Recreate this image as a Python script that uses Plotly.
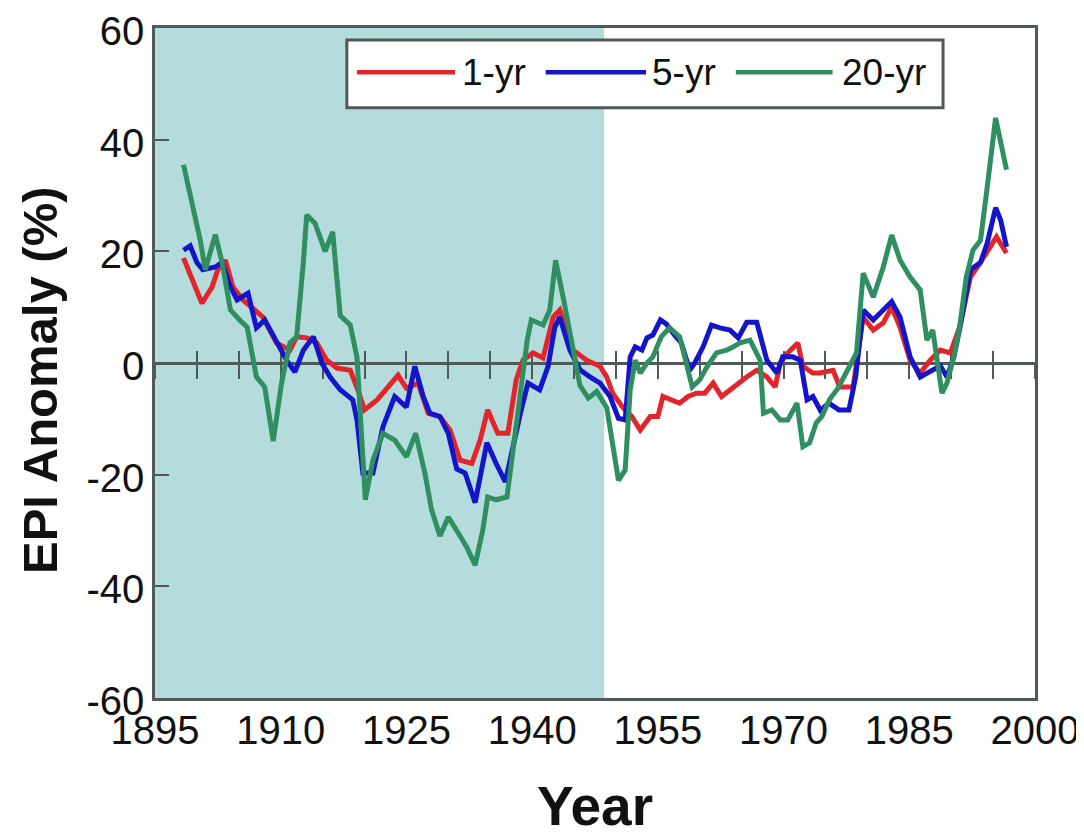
import plotly.graph_objects as go

# ---- data ----
yr1_years = [1898.4, 1899.6, 1900.6, 1901.8, 1902.5, 1903.4, 1904.3, 1905.5, 1907.9, 1909.5,
             1911.1, 1911.9, 1913.1, 1914.3, 1915.5, 1916.7, 1918.3, 1919.2, 1920.0, 1921.5,
             1922.8, 1924.0, 1925.0, 1926.4, 1927.6, 1929.0, 1930.2, 1931.4, 1932.8, 1933.8,
             1934.7, 1935.9, 1937.1, 1938.1, 1938.9, 1940.1, 1941.3, 1942.5, 1943.3, 1944.9,
             1946.5, 1948.1, 1948.9, 1949.6, 1950.8, 1951.9, 1952.9, 1954.1, 1955.0, 1955.6,
             1956.6, 1957.6, 1958.6, 1959.6, 1960.6, 1961.6, 1962.6, 1963.6, 1964.6, 1965.6,
             1966.8, 1968.0, 1969.0, 1969.6, 1970.5, 1971.7, 1972.3, 1973.5, 1974.3, 1975.1,
             1975.9, 1976.7, 1978.3, 1979.5, 1980.7, 1981.9, 1982.9, 1983.9, 1985.1, 1986.3,
             1987.5, 1988.7, 1989.9, 1991.0, 1992.3, 1993.5, 1994.7, 1995.4, 1996.6]
yr1_values = [18.8, 14.3, 10.7, 13.6, 16.7, 18.4, 13.6, 11.3, 8.2, 3.6,
              2.3, 4.7, 4.5, 3.6, 0.5, -0.9, -1.3, -4.8, -8.4, -6.6,
              -4.3, -2.2, -4.5, -3.6, -9.0, -9.6, -12.0, -17.4, -18.0, -13.8,
              -8.4, -12.6, -12.6, -3.0, 0.5, 1.8, 0.9, 8.2, 9.5, 2.3,
              0.5, -0.6, -2.5, -5.4, -7.9, -9.6, -12.0, -9.6, -9.6, -6.0,
              -6.6, -7.2, -6.0, -5.4, -5.4, -3.6, -6.0, -4.8, -3.6, -2.5,
              -1.3, -2.5, -4.3, 0.0, 1.8, 3.6, -0.6, -1.8, -1.8, -1.6,
              -1.3, -4.3, -4.3, 8.2, 5.9, 7.2, 10.0, 6.4, 0.5, -1.8,
              0.5, 2.3, 1.8, 6.4, 15.4, 18.0, 20.8, 22.6, 19.7]

yr5_years = [1898.4, 1899.2, 1900.0, 1900.7, 1902.2, 1903.0, 1904.0, 1904.8, 1906.1, 1907.1,
             1908.1, 1909.9, 1910.7, 1911.7, 1912.7, 1913.9, 1914.9, 1915.9, 1917.1, 1918.6,
             1919.1, 1919.8, 1921.0, 1922.2, 1923.6, 1925.0, 1926.0, 1927.0, 1927.8, 1929.0,
             1930.0, 1931.0, 1932.0, 1933.2, 1934.6, 1935.7, 1936.8, 1938.6, 1939.5, 1940.9,
             1941.9, 1942.7, 1943.3, 1944.5, 1945.7, 1946.9, 1948.1, 1949.3, 1950.3, 1951.1,
             1951.7, 1952.3, 1953.1, 1953.7, 1954.4, 1955.3, 1956.0, 1957.0, 1957.8, 1958.8,
             1959.4, 1960.4, 1961.4, 1962.4, 1963.6, 1964.6, 1965.6, 1966.8, 1968.0, 1969.2,
             1969.9, 1971.1, 1972.0, 1972.8, 1973.5, 1974.4, 1975.4, 1976.6, 1977.8, 1978.6,
             1979.5, 1980.7, 1981.9, 1982.9, 1983.9, 1985.1, 1986.3, 1987.5, 1988.7, 1989.5,
             1990.3, 1991.0, 1992.3, 1993.5, 1994.3, 1995.3, 1995.9, 1996.6]
yr5_values = [20.2, 21.0, 18.0, 16.7, 17.2, 18.0, 13.6, 11.3, 12.5, 6.3,
              7.7, 2.9, 0.5, -1.6, 2.3, 4.7, 0.0, -2.5, -4.8, -6.6,
              -10.2, -19.7, -19.7, -11.4, -6.0, -7.9, -0.6, -6.0, -9.0, -9.6,
              -12.6, -19.0, -19.7, -25.0, -14.3, -18.0, -21.3, -9.0, -3.6, -4.8,
              -0.6, 6.4, 8.2, 2.3, -1.2, -2.5, -3.6, -6.0, -9.9, -10.2,
              1.1, 2.9, 2.3, 4.5, 5.0, 7.7, 7.0, 5.0, 3.6, -1.3,
              0.0, 2.9, 6.8, 6.3, 5.9, 4.5, 7.3, 7.3, 0.5, -1.8,
              1.1, 1.1, 0.5, -6.6, -6.0, -8.5, -7.2, -8.4, -8.4, -2.5,
              9.5, 7.7, 9.5, 11.0, 8.2, 1.1, -2.5, -1.5, -0.5, -2.5,
              1.0, 6.0, 16.7, 18.0, 21.5, 27.8, 25.6, 20.8]

yr20_years = [1898.4, 1900.4, 1901.0, 1902.2, 1903.0, 1904.0, 1905.1, 1906.0, 1907.1, 1908.1,
              1909.1, 1910.1, 1911.1, 1911.9, 1912.7, 1913.1, 1914.1, 1915.3, 1916.2, 1917.1,
              1918.3, 1919.1, 1920.1, 1921.0, 1922.2, 1923.6, 1925.0, 1926.1, 1927.2, 1928.0,
              1929.0, 1930.0, 1931.2, 1932.2, 1933.2, 1934.1, 1934.7, 1935.7, 1937.0, 1937.8,
              1938.6, 1939.4, 1939.9, 1941.3, 1942.1, 1942.8, 1943.8, 1944.9, 1945.7, 1946.7,
              1947.7, 1948.9, 1949.6, 1950.3, 1951.1, 1951.7, 1952.3, 1952.9, 1953.7, 1954.4,
              1955.4, 1956.4, 1957.6, 1958.4, 1959.1, 1960.0, 1960.9, 1962.0, 1963.2, 1964.0,
              1964.8, 1966.0, 1967.2, 1967.6, 1968.6, 1969.6, 1970.5, 1971.6, 1972.3, 1973.1,
              1973.9, 1974.6, 1975.5, 1976.5, 1977.5, 1978.7, 1979.5, 1980.7, 1981.9, 1982.9,
              1983.9, 1985.1, 1986.3, 1987.1, 1987.8, 1988.9, 1989.5, 1990.3, 1991.0, 1991.8,
              1992.6, 1993.5, 1994.3, 1995.3, 1996.6]
yr20_values = [35.5, 22.0, 16.7, 23.0, 18.0, 9.5, 7.7, 6.4, -2.5, -4.3,
               -14.0, -3.6, 3.6, 4.7, 18.0, 26.5, 25.0, 20.0, 23.5, 8.5,
               6.8, 1.0, -24.5, -17.4, -12.6, -13.8, -16.8, -12.6, -19.7, -26.3,
               -31.0, -27.6, -30.5, -33.0, -36.2, -30.0, -24.0, -24.5, -24.0, -14.3,
               -5.4, 4.0, 7.7, 6.8, 9.5, 18.4, 11.0, 2.9, -4.0, -6.3,
               -5.1, -8.0, -14.3, -21.0, -19.2, -4.8, 0.5, -1.8, 0.0, 1.1,
               4.7, 6.3, 4.7, 0.0, -4.3, -3.0, -0.6, 1.8, 2.3, 2.9,
               3.6, 4.1, 0.5, -9.0, -8.4, -10.2, -10.2, -7.2, -15.0, -14.3,
               -10.7, -9.5, -6.5, -4.5, -1.6, 1.8, 16.1, 11.8, 17.2, 22.9,
               18.4, 15.4, 13.1, 4.1, 5.9, -5.4, -3.6, 1.1, 6.4, 15.4,
               20.2, 22.0, 31.5, 43.9, 34.6]

series_names = ["1-yr", "5-yr", "20-yr"]
series_years = [yr1_years, yr5_years, yr20_years]
series_values = [yr1_values, yr5_values, yr20_values]
series_colors = ["#e3242b", "#1414c8", "#2f8f60"]
series_xaxes = ["x", "x2", "x3"]   # x2/x3 overlay x; they carry the zero line with crossing ticks

x_ticks = [1895, 1910, 1925, 1940, 1955, 1970, 1985, 2000]
y_ticks = [-60, -40, -20, 0, 20, 40, 60]
x_range = [1895, 2000]
y_range = [-60, 60]
shade_start, shade_end = 1895, 1948.6

x_title = "Year"
y_title = "EPI Anomaly (%)"

FONT = "Liberation Sans, Arial, sans-serif"
AXIS_GREY = "#505858"
TXT = "#111111"

fig = go.Figure()
for name, xs, ys, col, xa in zip(series_names, series_years, series_values, series_colors, series_xaxes):
    fig.add_trace(go.Scatter(x=xs, y=ys, mode="lines", name=name, xaxis=xa, yaxis="y",
                             line=dict(color=col, width=5), showlegend=False))

# shaded period
fig.add_shape(type="rect", xref="x", yref="paper", x0=shade_start, x1=shade_end,
              y0=0, y1=1, fillcolor="#b5dcdd", line=dict(width=0), layer="below")

zero_axis = dict(overlaying="x", anchor="free", position=0.5, range=x_range, side="bottom",
                 tick0=1895, dtick=5, tickwidth=2, tickcolor=AXIS_GREY, showticklabels=False,
                 showgrid=False, zeroline=False, layer="below traces", automargin=False)

# the page body has an 8px margin; the figure starts at (8, 8) in the window
fig.update_layout(
    template="none",
    width=1076, height=829,
    margin=dict(l=147, r=49, t=20, b=139),
    paper_bgcolor="white", plot_bgcolor="white",
    font=dict(family=FONT, color=TXT),
    xaxis=dict(range=x_range, tickvals=x_ticks, ticktext=[str(v) for v in x_ticks],
               ticks="", showgrid=False, zeroline=False, automargin=False,
               showline=True, linecolor=AXIS_GREY, linewidth=2.5, mirror=True,
               ticklabelstandoff=-5, ticklabeloverflow="allow",
               tickfont=dict(size=40, family=FONT, color=TXT),
               title=dict(text="<b>" + x_title + "</b>", font=dict(size=55, family=FONT, color=TXT),
                          standoff=37)),
    yaxis=dict(range=y_range, tickvals=y_ticks, ticktext=[str(v) for v in y_ticks],
               ticks="inside", ticklen=14, tickwidth=2, automargin=False,
               tickcolor=AXIS_GREY, showgrid=False, zeroline=False, ticklabeloverflow="allow",
               ticklabelshift=3,
               showline=True, linecolor=AXIS_GREY, linewidth=2.5, mirror=True,
               tickfont=dict(size=40, family=FONT, color=TXT)),
    xaxis2=dict(zero_axis, ticks="outside", ticklen=14, showline=True,
                linecolor=AXIS_GREY, linewidth=2.5),
    xaxis3=dict(zero_axis, ticks="inside", ticklen=12, showline=False),
)

# y-axis title (placed slightly below the plot centre, as in the reference)
fig.add_annotation(xref="paper", yref="paper", x=-0.1307, y=0.4746, text="<b>" + y_title + "</b>",
                   textangle=-90, showarrow=False, xanchor="center", yanchor="middle",
                   font=dict(size=49, family=FONT, color=TXT))

# legend box drawn as in the reference
fig.add_shape(type="rect", xref="paper", yref="paper", x0=0.218, x1=0.8955, y0=0.881, y1=0.982,
              fillcolor="white", line=dict(color=AXIS_GREY, width=3), layer="above")
leg_line_x = [(0.2295, 0.341), (0.444, 0.558), (0.660, 0.770)]
leg_text_x = [0.3466, 0.5625, 0.778]
leg_y = 0.934
for name, col, (lx0, lx1), tx in zip(series_names, series_colors, leg_line_x, leg_text_x):
    fig.add_shape(type="line", xref="paper", yref="paper", x0=lx0, x1=lx1, y0=leg_y, y1=leg_y,
                  line=dict(color=col, width=4.5), layer="above")
    fig.add_annotation(xref="paper", yref="paper", x=tx, y=leg_y, text=name, showarrow=False,
                       xanchor="left", yanchor="middle",
                       font=dict(size=37, family=FONT, color=TXT))

fig.write_html("out.html")
